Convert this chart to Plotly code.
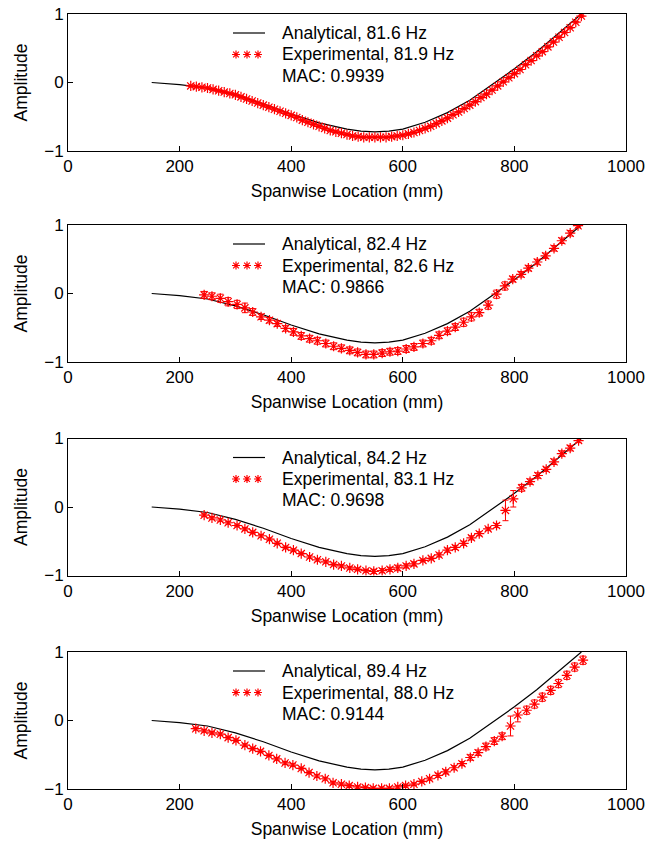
import plotly.graph_objects as go

# ---------------- data ----------------
ana_x = [150, 200, 250, 300, 350, 400, 450, 500, 525, 550, 575, 600, 640, 680, 720, 760, 800, 840, 880, 920]
ana_y = [0.0, -0.03, -0.08, -0.18, -0.31, -0.46, -0.59, -0.68, -0.71, -0.72, -0.71, -0.68, -0.58, -0.44,
         -0.26, -0.03, 0.20, 0.45, 0.72, 1.0]

exp1_x = [220, 230, 240, 250, 260, 270, 280, 290, 300, 310, 320, 330, 340, 350, 360, 370, 380, 390, 400,
          410, 420, 430, 440, 450, 460, 470, 480, 490, 500, 510, 520, 530, 540, 550, 560, 570, 580, 590,
          600, 610, 620, 630, 640, 650, 660, 670, 680, 690, 700, 710, 720, 730, 740, 750, 760, 770, 780,
          790, 800, 810, 820, 830, 840, 850, 860, 870, 880, 890, 900, 910, 920]
exp1_y = [-0.05, -0.06, -0.07, -0.08, -0.10, -0.12, -0.14, -0.16, -0.18, -0.21, -0.24, -0.27, -0.30,
          -0.33, -0.36, -0.39, -0.42, -0.45, -0.48, -0.51, -0.55, -0.58, -0.61, -0.64, -0.67, -0.70,
          -0.72, -0.74, -0.76, -0.78, -0.79, -0.80, -0.80, -0.80, -0.80, -0.80, -0.79, -0.78, -0.77,
          -0.75, -0.73, -0.70, -0.67, -0.64, -0.60, -0.56, -0.52, -0.47, -0.43, -0.38, -0.33, -0.28,
          -0.22, -0.17, -0.11, -0.05, 0.01, 0.07, 0.13, 0.19, 0.26, 0.32, 0.39, 0.45, 0.52, 0.59, 0.66,
          0.73, 0.80, 0.88, 0.97]
exp1_e = [0.01] * 71

exp2_x = [244, 258, 273, 287, 303, 317, 331, 346, 361, 375, 390, 404, 418, 433, 447, 462, 476, 490, 505,
          519, 534, 548, 563, 577, 591, 606, 620, 636, 651, 665, 680, 694, 709, 723, 737, 753, 768, 783,
          797, 812, 825, 841, 856, 871, 885, 900, 914]
exp2_y = [-0.02, -0.04, -0.07, -0.12, -0.16, -0.21, -0.27, -0.34, -0.39, -0.44, -0.51, -0.56, -0.62,
          -0.66, -0.69, -0.73, -0.77, -0.80, -0.83, -0.86, -0.89, -0.89, -0.87, -0.85, -0.84, -0.81,
          -0.78, -0.73, -0.69, -0.61, -0.55, -0.49, -0.42, -0.34, -0.28, -0.17, -0.01, 0.11, 0.21,
          0.28, 0.37, 0.46, 0.55, 0.66, 0.77, 0.88, 0.99]
exp2_e = [0.05, 0.05, 0.06, 0.06, 0.06, 0.07, 0.05, 0.04, 0.04, 0.04, 0.04, 0.05, 0.05, 0.05, 0.05,
          0.05, 0.05, 0.05, 0.05, 0.05, 0.05, 0.05, 0.05, 0.05, 0.05, 0.05, 0.05, 0.05, 0.05, 0.05,
          0.05, 0.05, 0.06, 0.06, 0.05, 0.06, 0.06, 0.06, 0.04, 0.04, 0.04, 0.04, 0.04, 0.04, 0.04,
          0.04, 0.03]

exp3_x = [244, 258, 273, 287, 303, 317, 331, 346, 361, 375, 390, 404, 418, 433, 447, 462, 476, 490, 505,
          519, 534, 548, 563, 577, 591, 606, 620, 636, 651, 665, 680, 694, 709, 723, 737, 753, 768, 784,
          798, 813, 828, 842, 857, 871, 885, 900, 915]
exp3_y = [-0.12, -0.16, -0.19, -0.23, -0.27, -0.32, -0.37, -0.42, -0.47, -0.53, -0.59, -0.63, -0.68,
          -0.73, -0.77, -0.80, -0.84, -0.86, -0.89, -0.91, -0.93, -0.94, -0.93, -0.91, -0.89, -0.86,
          -0.83, -0.78, -0.75, -0.70, -0.63, -0.59, -0.53, -0.45, -0.39, -0.32, -0.27, -0.05, 0.12,
          0.28, 0.37, 0.46, 0.55, 0.66, 0.78, 0.86, 0.97]
exp3_e = [0.02, 0.02, 0.02, 0.02, 0.02, 0.02, 0.02, 0.02, 0.02, 0.02, 0.02, 0.02, 0.02, 0.02, 0.02,
          0.02, 0.02, 0.02, 0.02, 0.02, 0.02, 0.03, 0.03, 0.03, 0.04, 0.03, 0.03, 0.02, 0.02, 0.03,
          0.03, 0.03, 0.03, 0.03, 0.03, 0.02, 0.03, 0.15, 0.12, 0.05, 0.04, 0.04, 0.03, 0.04, 0.04,
          0.04, 0.03]

exp4_x = [229, 244, 258, 273, 287, 301, 317, 331, 345, 360, 374, 389, 403, 418, 432, 446, 461, 475, 490,
          504, 519, 533, 547, 562, 576, 591, 605, 620, 634, 648, 663, 677, 692, 706, 721, 735, 749, 764,
          778, 793, 806, 822, 836, 850, 865, 879, 894, 908, 923]
exp4_y = [-0.12, -0.15, -0.18, -0.20, -0.25, -0.29, -0.36, -0.41, -0.45, -0.51, -0.56, -0.62, -0.65,
          -0.70, -0.76, -0.81, -0.85, -0.91, -0.93, -0.95, -0.97, -0.98, -0.99, -0.99, -0.99, -0.97,
          -0.95, -0.93, -0.89, -0.85, -0.80, -0.75, -0.69, -0.63, -0.54, -0.47, -0.38, -0.30, -0.23,
          -0.08, 0.08, 0.15, 0.24, 0.34, 0.44, 0.54, 0.66, 0.78, 0.88]
exp4_e = [0.02, 0.02, 0.02, 0.02, 0.02, 0.02, 0.02, 0.02, 0.02, 0.02, 0.02, 0.02, 0.02, 0.02, 0.02,
          0.02, 0.02, 0.02, 0.02, 0.02, 0.02, 0.02, 0.02, 0.02, 0.02, 0.02, 0.02, 0.02, 0.02, 0.02,
          0.03, 0.03, 0.03, 0.03, 0.04, 0.04, 0.05, 0.05, 0.05, 0.145, 0.10, 0.06, 0.06, 0.06, 0.06,
          0.06, 0.06, 0.06, 0.06]

ana_freq = ["81.6", "82.4", "84.2", "89.4"]
exp_freq = ["81.9", "82.6", "83.1", "88.0"]
mac_vals = ["0.9939", "0.9866", "0.9698", "0.9144"]

x_ticks = [0, 200, 400, 600, 800, 1000]
y_ticks = [-1, 0, 1]

panels = [
    (exp1_x, exp1_y, exp1_e),
    (exp2_x, exp2_y, exp2_e),
    (exp3_x, exp3_y, exp3_e),
    (exp4_x, exp4_y, exp4_e),
]

# ---------------- layout geometry ----------------
W, H = 662, 843
ML, MR, MT, MB = 68, 36, 14, 54
plot_w = W - ML - MR
plot_h = H - MT - MB
panel_top_px = [14, 225, 438.5, 652]
panel_h_px = 137

FONT = "Liberation Sans, Arial, Helvetica, sans-serif"
TICK_SIZE = 17
TITLE_SIZE = 17.5
LEG_SIZE = 17.5


def px_x(p):
    return (p - ML) / plot_w


def px_y(p):
    return (H - MB - p) / plot_h


fig = go.Figure()
shapes = []
annotations = []

for i, (ex, ey, ee) in enumerate(panels):
    n = i + 1
    xa = "x" if n == 1 else f"x{n}"
    ya = "y" if n == 1 else f"y{n}"
    fig.add_trace(go.Scatter(
        x=ana_x, y=ana_y, mode="lines", xaxis=xa, yaxis=ya,
        name=f"Analytical, {ana_freq[i]} Hz", showlegend=False,
        line=dict(color="black", width=1.2),
    ))
    fig.add_trace(go.Scatter(
        x=ex, y=ey, mode="markers", xaxis=xa, yaxis=ya,
        name=f"Experimental, {exp_freq[i]} Hz", showlegend=False,
        marker=dict(symbol="asterisk-open", size=8.5, color="red", line=dict(width=1.2, color="red")),
        error_y=dict(type="data", array=ee, visible=True, color="red", thickness=1, width=3),
    ))

    top = panel_top_px[i]
    d1 = px_y(top)
    d0 = px_y(top + panel_h_px)

    axis_common = dict(
        showline=True, linecolor="black", linewidth=1, mirror=True,
        ticks="inside", ticklen=5, tickcolor="black", tickwidth=1,
        showgrid=False, zeroline=False,
        tickfont=dict(family=FONT, size=TICK_SIZE, color="black"),
    )
    fig.layout[f"xaxis{'' if n == 1 else n}"] = dict(
        axis_common, domain=[0, 1], range=[0, 1000], tickvals=x_ticks,
        anchor=ya,
        title=dict(text="Spanwise Location (mm)", font=dict(family=FONT, size=TITLE_SIZE, color="black"),
                   standoff=9),
    )
    fig.layout[f"yaxis{'' if n == 1 else n}"] = dict(
        axis_common, domain=[d0, d1], range=[-1, 1], tickvals=y_ticks,
        anchor=xa,
        title=dict(text="Amplitude", font=dict(family=FONT, size=TITLE_SIZE, color="black"), standoff=12),
    )

    # ---- legend (drawn box-less, as in the reference) ----
    rows = [top + 19, top + 40.5, top + 62]
    labels = [f"Analytical, {ana_freq[i]} Hz", f"Experimental, {exp_freq[i]} Hz", f"MAC: {mac_vals[i]}"]
    for r, lab in zip(rows, labels):
        annotations.append(dict(
            x=px_x(280), y=px_y(r), xref="paper", yref="paper", xanchor="left", yanchor="middle",
            text=lab, showarrow=False, font=dict(family=FONT, size=LEG_SIZE, color="black"),
        ))
    shapes.append(dict(type="line", xref="paper", yref="paper",
                       x0=px_x(233), x1=px_x(265), y0=px_y(rows[0]), y1=px_y(rows[0]),
                       line=dict(color="black", width=1.2)))
    rr = 4
    for cx in (236, 247, 258):
        cy = rows[1]
        segs = [((-rr, 0), (rr, 0)), ((0, -rr), (0, rr)),
                ((-rr * 0.72, -rr * 0.72), (rr * 0.72, rr * 0.72)),
                ((-rr * 0.72, rr * 0.72), (rr * 0.72, -rr * 0.72))]
        path = " ".join(
            f"M {px_x(cx + a[0]):.5f},{px_y(cy + a[1]):.5f} L {px_x(cx + b[0]):.5f},{px_y(cy + b[1]):.5f}"
            for a, b in segs)
        shapes.append(dict(type="path", xref="paper", yref="paper", path=path,
                           line=dict(color="red", width=1.2)))

fig.update_layout(
    width=W, height=H,
    margin=dict(l=ML, r=MR, t=MT, b=MB, autoexpand=False),
    paper_bgcolor="white", plot_bgcolor="white",
    showlegend=False,
    shapes=shapes, annotations=annotations,
)

fig.write_html("out.html", config={"displayModeBar": False},
               post_script="document.body.style.margin='0px';")
